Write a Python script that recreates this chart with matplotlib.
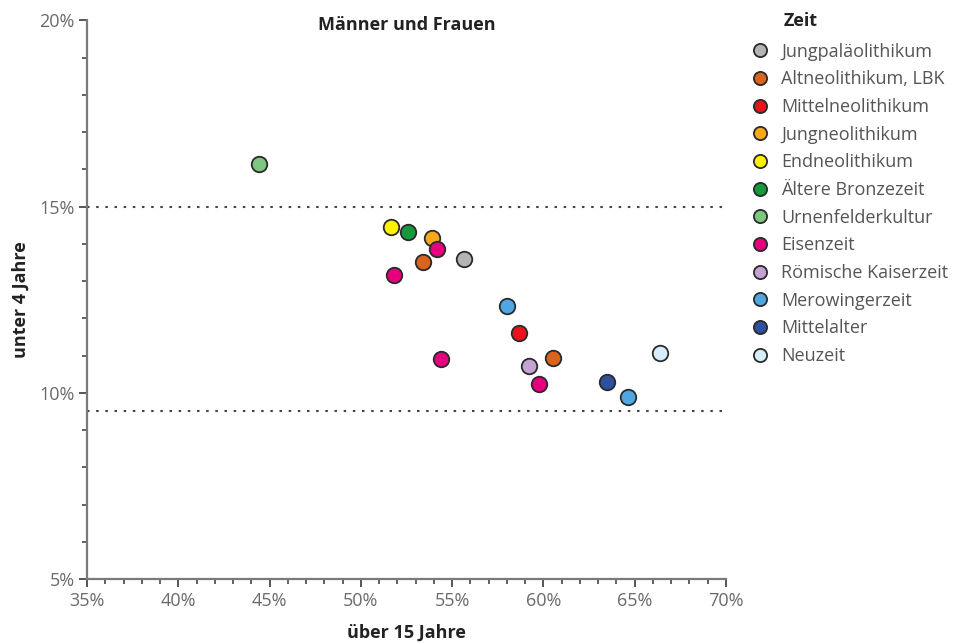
import matplotlib.pyplot as plt
from matplotlib.ticker import MultipleLocator, FuncFormatter
from matplotlib.lines import Line2D

# Zeitstufen in Legendenreihenfolge und ihre Farben
periods = [
    "Jungpaläolithikum", "Altneolithikum, LBK", "Mittelneolithikum",
    "Jungneolithikum", "Endneolithikum", "Ältere Bronzezeit",
    "Urnenfelderkultur", "Eisenzeit", "Römische Kaiserzeit",
    "Merowingerzeit", "Mittelalter", "Neuzeit",
]
colors = [
    "#b4b4b4", "#d9641e", "#e8141c", "#f7a81b", "#fff200", "#15993c",
    "#7cc67f", "#e6007e", "#c4a2d2", "#4fa6e2", "#2f509f", "#d6eefa",
]

# Einzelwerte: Anteil über 15 Jahre (x) und unter 4 Jahre (y), in %
point_period = [
    "Urnenfelderkultur", "Endneolithikum", "Ältere Bronzezeit",
    "Jungneolithikum", "Eisenzeit", "Altneolithikum, LBK",
    "Jungpaläolithikum", "Eisenzeit", "Eisenzeit",
    "Merowingerzeit", "Mittelneolithikum", "Römische Kaiserzeit",
    "Altneolithikum, LBK", "Eisenzeit", "Mittelalter",
    "Merowingerzeit", "Neuzeit",
]
over15 = [44.4, 51.65, 52.6, 53.9, 54.15, 53.4, 55.65, 51.8, 54.4,
          58.0, 58.65, 59.2, 60.55, 59.75, 63.5, 64.65, 66.4]
under4 = [16.15, 14.45, 14.33, 14.17, 13.85, 13.52, 13.6, 13.16, 10.9,
          12.33, 11.62, 10.72, 10.94, 10.25, 10.3, 9.9, 11.07]

# Grenzlinien
ref_lines = [15.0, 9.5]

plt.rcParams["font.family"] = ["Open Sans", "DejaVu Sans"]

fig = plt.figure(figsize=(9.55, 6.44), dpi=100)
ax = fig.add_axes([0.0911, 0.1009, 0.6690, 0.8673])

color_of = dict(zip(periods, colors))
for name in periods:
    xs = [x for x, p in zip(over15, point_period) if p == name]
    ys = [y for y, p in zip(under4, point_period) if p == name]
    ax.scatter(xs, ys, s=125, c=color_of[name], edgecolors="#2a2a2a",
               linewidths=1.3, zorder=3)

for yv in ref_lines:
    ax.axhline(yv, color="#444444", linestyle=(0, (1.2, 3.2)), linewidth=1.5, zorder=1)

ax.set_xlim(35, 70)
ax.set_ylim(5, 20)
ax.xaxis.set_major_locator(MultipleLocator(5))
ax.xaxis.set_minor_locator(MultipleLocator(1))
ax.yaxis.set_major_locator(MultipleLocator(5))
ax.yaxis.set_minor_locator(MultipleLocator(1))
pct = FuncFormatter(lambda v, _: f"{v:.0f}%")
ax.xaxis.set_major_formatter(pct)
ax.yaxis.set_major_formatter(pct)

for side in ["top", "right"]:
    ax.spines[side].set_visible(False)
for side in ["left", "bottom"]:
    ax.spines[side].set_color("#7a7a7a")
    ax.spines[side].set_linewidth(1.6)

ax.tick_params(which="major", direction="out", length=6, width=1.4,
               color="#555555", labelsize=13, labelcolor="#6a6a6a", pad=3)
ax.tick_params(which="minor", direction="out", length=3.5, width=1.3,
               color="#555555")

ax.set_xlabel("über 15 Jahre", fontsize=13, fontweight="bold",
              color="#222222", labelpad=10)
ax.set_ylabel("unter 4 Jahre", fontsize=13, fontweight="bold",
              color="#222222", labelpad=7)
ax.text(0.5, 0.992, "Männer und Frauen", transform=ax.transAxes,
        ha="center", va="center", fontsize=13, fontweight="bold", color="#222222")

# Legende; der Titel steht über der Textspalte, daher als eigener Text
handles = [Line2D([], [], linestyle="none", marker="o", markersize=9.5,
                  markerfacecolor=c, markeredgecolor="#2a2a2a",
                  markeredgewidth=1.3) for c in colors]
leg = fig.legend(handles, periods, title=" ", loc="upper left",
                 bbox_to_anchor=(0.781, 0.988), frameon=False,
                 fontsize=13, title_fontsize=13, labelspacing=0.535,
                 handletextpad=0.75, handlelength=0.8, borderaxespad=0)
for t in leg.get_texts():
    t.set_color("#555555")
fig.text(0.8205, 0.968, "Zeit", ha="left", va="center", fontsize=13,
         fontweight="bold", color="#222222")

fig.savefig("out.png")
